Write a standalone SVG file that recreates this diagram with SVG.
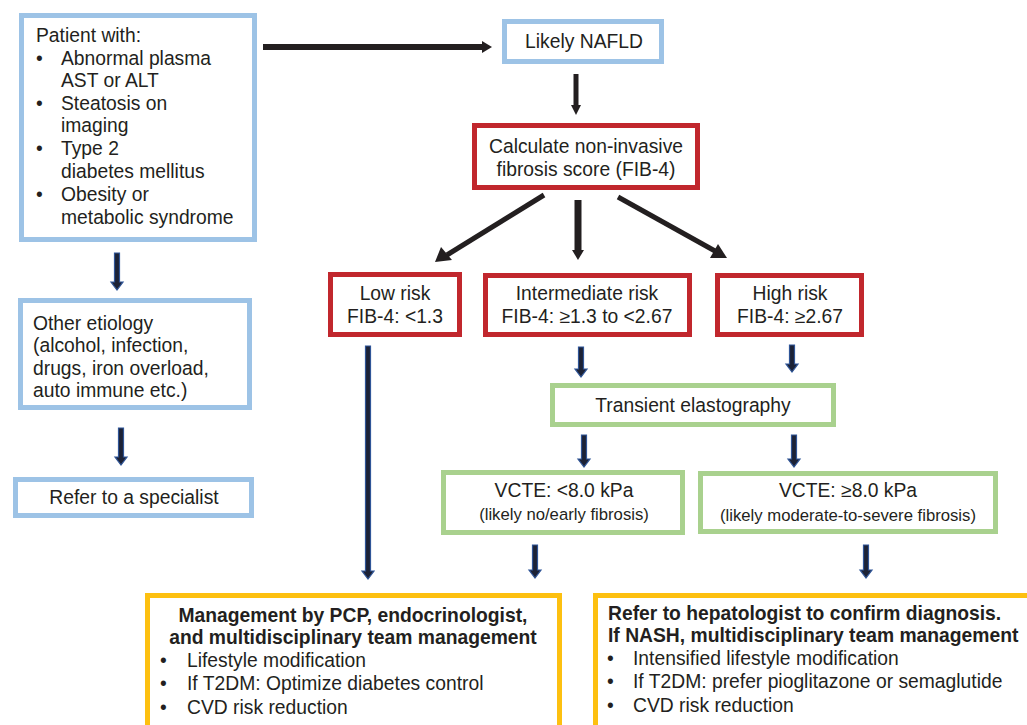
<svg xmlns="http://www.w3.org/2000/svg" width="1027" height="725" viewBox="0 0 1027 725">
<style>
text{font-family:"Liberation Sans",Arial,sans-serif;font-size:19.3px;fill:#231f20}
.c{text-anchor:middle}
.s{font-size:16.7px}
.b{font-weight:bold}
.box{fill:#fff;stroke-width:5}
.blue{stroke:#9dc3e6}
.red{stroke:#c1272d}
.green{stroke:#a9d18e}
.yel{stroke:#fdc010}
.blk{stroke:#231f20;stroke-width:6;fill:none}
.nav{fill:#1c2236;stroke:#2f5597;stroke-width:1.2}
</style>
<rect width="1027" height="725" fill="#fff"/>
<g id="connectors">
<line class="blk" x1="263" y1="47" x2="484" y2="47"/>
<polygon points="482,41 492,47 482,53" fill="#231f20"/>
<line class="blk" x1="576" y1="74" x2="576" y2="106" style="stroke-width:5"/>
<polygon points="571,105 581,105 576,115" fill="#231f20"/>
<line class="blk" x1="544" y1="195" x2="447" y2="255" style="stroke-width:5"/>
<polygon points="435,262 441,247 452,260" fill="#231f20"/>
<line class="blk" x1="578" y1="200" x2="578" y2="252" style="stroke-width:7"/>
<polygon points="572,250 584,250 578,260" fill="#231f20"/>
<line class="blk" x1="618" y1="197" x2="715" y2="251" style="stroke-width:5"/>
<polygon points="727,258 710,258 718,244" fill="#231f20"/>
<path class="nav" d="M114.5,253 h5 v29 h3.5 l-6,8 l-6,-8 h3.5 z"/>
<path class="nav" d="M118.5,428 h5 v29 h3.5 l-6,8 l-6,-8 h3.5 z"/>
<path class="nav" d="M365.5,346 h5 v225 h3.5 l-6,8 l-6,-8 h3.5 z"/>
<path class="nav" d="M578.5,347 h5 v22 h3.5 l-6,8 l-6,-8 h3.5 z"/>
<path class="nav" d="M789.5,345 h5 v19 h3.5 l-6,8 l-6,-8 h3.5 z"/>
<path class="nav" d="M581.5,435 h5 v24 h3.5 l-6,8 l-6,-8 h3.5 z"/>
<path class="nav" d="M791.5,435 h5 v24 h3.5 l-6,8 l-6,-8 h3.5 z"/>
<path class="nav" d="M532.5,545 h5 v25 h3.5 l-6,8 l-6,-8 h3.5 z"/>
<path class="nav" d="M863.5,545 h5 v25 h3.5 l-6,8 l-6,-8 h3.5 z"/>
</g>
<g id="patient">
<rect class="box blue" x="21.5" y="15.5" width="233" height="224"/>
<text x="36" y="42">Patient with:</text>
<text x="36" y="65">•</text><text x="61" y="65">Abnormal plasma</text>
<text x="61" y="87">AST or ALT</text>
<text x="36" y="110">•</text><text x="61" y="110">Steatosis on</text>
<text x="61" y="132">imaging</text>
<text x="36" y="155">•</text><text x="61" y="155">Type 2</text>
<text x="61" y="178">diabetes mellitus</text>
<text x="36" y="201">•</text><text x="61" y="201">Obesity or</text>
<text x="61" y="224">metabolic syndrome</text>
</g>
<g id="nafld">
<rect class="box blue" x="504.5" y="21.5" width="157" height="40"/>
<text class="c" x="584" y="48">Likely NAFLD</text>
</g>
<g id="calc">
<rect class="box red" x="474.5" y="125.5" width="223" height="62"/>
<text class="c" x="586" y="153">Calculate non-invasive</text>
<text class="c" x="586" y="176">fibrosis score (FIB-4)</text>
</g>
<g id="low">
<rect class="box red" x="330.5" y="274.5" width="129" height="60"/>
<text class="c" x="395" y="300">Low risk</text>
<text class="c" x="395" y="323">FIB-4: &lt;1.3</text>
</g>
<g id="inter">
<rect class="box red" x="485.5" y="275.5" width="204" height="59"/>
<text class="c" x="587" y="300">Intermediate risk</text>
<text class="c" x="587" y="323">FIB-4: ≥1.3 to &lt;2.67</text>
</g>
<g id="high">
<rect class="box red" x="717.5" y="275.5" width="144" height="59"/>
<text class="c" x="790" y="300">High risk</text>
<text class="c" x="790" y="323">FIB-4: ≥2.67</text>
</g>
<g id="other">
<rect class="box blue" x="20.5" y="300.5" width="229" height="107"/>
<text x="33" y="330">Other etiology</text>
<text x="33" y="352">(alcohol, infection,</text>
<text x="33" y="375">drugs, iron overload,</text>
<text x="33" y="397">auto immune etc.)</text>
</g>
<g id="refer">
<rect class="box blue" x="15.5" y="479.5" width="236" height="36"/>
<text class="c" x="134" y="504">Refer to a specialist</text>
</g>
<g id="transient">
<rect class="box green" x="552.5" y="385.5" width="281" height="39"/>
<text class="c" x="693" y="412">Transient elastography</text>
</g>
<g id="vcte-low">
<rect class="box green" x="443.5" y="472.5" width="239" height="60"/>
<text class="c" x="564" y="497">VCTE: &lt;8.0 kPa</text>
<text class="c s" x="564" y="520">(likely no/early fibrosis)</text>
</g>
<g id="vcte-high">
<rect class="box green" x="700.5" y="473.5" width="295" height="58"/>
<text class="c" x="848" y="497">VCTE: ≥8.0 kPa</text>
<text class="c s" x="848" y="521">(likely moderate-to-severe fibrosis)</text>
</g>
<g id="manage-pcp">
<rect class="box yel" x="147.5" y="595.5" width="412" height="140"/>
<text class="c b" x="353" y="622">Management by PCP, endocrinologist,</text>
<text class="c b" x="353" y="644">and multidisciplinary team management</text>
<text x="160" y="667">•</text><text x="187" y="667">Lifestyle modification</text>
<text x="160" y="690">•</text><text x="187" y="690">If T2DM: Optimize diabetes control</text>
<text x="160" y="714">•</text><text x="187" y="714">CVD risk reduction</text>
</g>
<g id="refer-hep">
<rect class="box yel" x="595.5" y="595.5" width="440" height="140"/>
<text class="b" x="608" y="620">Refer to hepatologist to confirm diagnosis.</text>
<text class="b" x="608" y="642">If NASH, multidisciplinary team management</text>
<text x="607" y="665">•</text><text x="633" y="665">Intensified lifestyle modification</text>
<text x="607" y="688">•</text><text x="633" y="688">If T2DM: prefer pioglitazone or semaglutide</text>
<text x="607" y="712">•</text><text x="633" y="712">CVD risk reduction</text>
</g>
</svg>
